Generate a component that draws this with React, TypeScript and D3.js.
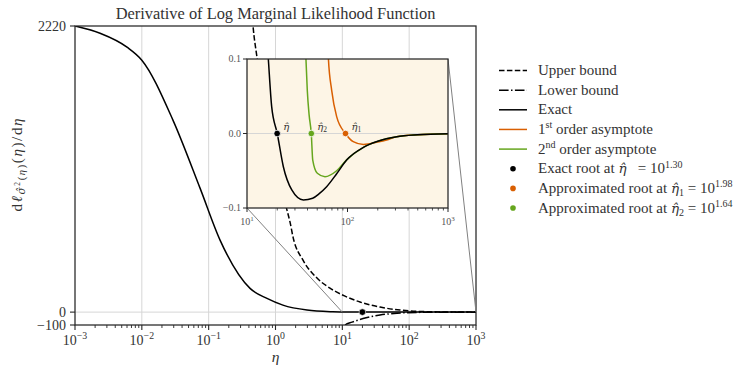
import React from 'react';
import * as d3 from 'd3';

// ---------- data ----------
const exactEta = [0.001, 0.00237, 0.006, 0.01, 0.0292, 0.0743, 0.148, 0.416, 0.746, 1.29, 2.96, 7.2, 12, 16.3, 17.6, 20, 23, 27.9, 36.4, 45, 52, 62, 78, 98, 144, 200, 309, 500, 1000];
const exactVal = [2220, 2164, 2056, 1955, 1490, 962, 559, 184, 106, 54, 16, 3, 0.4, 0.1, 0.036, 0, -0.0446, -0.0758, -0.0893, -0.087, -0.081, -0.0714, -0.054, -0.0356, -0.0186, -0.0105, -0.0044, -0.0018, -0.0004];

const upperEta = [0.4, 0.461, 0.528, 0.83, 1.486, 1.65, 1.83, 2.58, 4.18, 6.53, 10.96, 18.4, 36.6, 73, 145, 400, 1000];
const upperVal = [2700, 2220, 1978, 1300, 791, 698, 582, 403, 264, 186, 124, 78, 39, 16, 5, 1, 0.3];

const lowerEta = [8, 11, 14, 20.4, 36.6, 65.8, 145, 400, 1000];
const lowerVal = [-200, -100, -78, -50, -23, -8, -2, -0.4, -0.1];

const asym1Eta = [62, 64.6, 69.6, 78, 95.5, 114, 144, 200, 245, 309, 500, 1000];
const asym1Val = [0.16, 0.1, 0.058, 0.0226, 0, -0.011, -0.0148, -0.0115, -0.0087, -0.0042, -0.0017, -0.0004];

const asym2Eta = [36.5, 38.6, 39.8, 41.5, 43.6, 45.1, 50.1, 59.7, 78, 98, 144, 200, 309, 500, 1000];
const asym2Val = [0.16, 0.1, 0.058, 0.025, 0, -0.0356, -0.0534, -0.058, -0.05, -0.0354, -0.0185, -0.0105, -0.0044, -0.0018, -0.0004];

const rootExp = [1.30, 1.98, 1.64];
const rootColors = ['#000000', '#d95f02', '#66a61e'];
const rootLabels = ['', '1', '2'];

const mainXTicks = [-3, -2, -1, 0, 1, 2, 3];
const mainYTicks = [2220, 0, -100];
const insetXTicks = [1, 2, 3];
const insetYTicks = [0.1, 0, -0.1];
const insetYLabels = ['0.1', '0.0', '\u22120.1'];

const legendLines = [
  { label: 'Upper bound', dash: '5.5,2.4', color: '#000' },
  { label: 'Lower bound', dash: '9.6,2.4,1.5,2.4', color: '#000' },
  { label: 'Exact', dash: null, color: '#000' },
];

const FONT = '"Liberation Serif", "DejaVu Serif", serif';
const HATFONT = '"DejaVu Serif", serif';
const TXT = '#333';

const pair = (xs: number[], ys: number[]) => xs.map((x, i) => [x, ys[i]] as [number, number]);

export default function App() {
  const xMain = d3.scaleLog().domain([1e-3, 1e3]).range([75, 476]);
  const yMain = d3.scaleLinear().domain([-100, 2220]).range([325, 26]);
  const xIn = d3.scaleLog().domain([10, 1000]).range([247, 448]);
  const yIn = d3.scaleLinear().domain([-0.1, 0.1]).range([208, 59]);

  const lineMain = d3.line<[number, number]>().x(d => xMain(d[0])).y(d => yMain(d[1])).curve(d3.curveMonotoneX);
  const lineIn = d3.line<[number, number]>().x(d => xIn(d[0])).y(d => yIn(d[1])).curve(d3.curveMonotoneX);

  const exact = pair(exactEta, exactVal);
  const upper = pair(upperEta, upperVal);
  const lower = pair(lowerEta, lowerVal);
  const a1 = pair(asym1Eta, asym1Val);
  const a2 = pair(asym2Eta, asym2Val);

  const [mx0, mx1] = xMain.range();
  const [my0, my1] = [yMain(2220), yMain(-100)];
  const [ix0, ix1] = xIn.range();
  const [iy0, iy1] = [yIn(0.1), yIn(-0.1)];

  const minor = (lo: number, hi: number) => {
    const out: number[] = [];
    for (let e = lo; e < hi; e++) for (let k = 2; k <= 9; k++) out.push(k * Math.pow(10, e));
    return out;
  };

  const sup = (base: string, exp: string, fs: number, x: number, y: number, fill: string) => (
    <text x={x} y={y} textAnchor="middle" fontSize={fs} fill={fill}>
      <tspan>{base}</tspan>
      <tspan dy={-fs * 0.42} fontSize={fs * 0.7}>{exp}</tspan>
    </text>
  );

  const rowY = (i: number) => 70.5 + i * 19.65;
  const LFS = 15;
  const ETAHAT = '\u03B7\u0302';

  return (
    <svg width={747} height={376} style={{ position: 'absolute', left: 0, top: 0, background: '#fff' }} fontFamily={FONT}>
      <defs>
        <clipPath id="cmain"><rect x={mx0} y={my0} width={mx1 - mx0} height={my1 - my0} /></clipPath>
        <clipPath id="cin"><rect x={ix0} y={iy0} width={ix1 - ix0} height={iy1 - iy0} /></clipPath>
      </defs>

      {/* main grid */}
      {mainXTicks.slice(1, -1).map(e => (
        <line key={'g' + e} x1={xMain(Math.pow(10, e))} x2={xMain(Math.pow(10, e))} y1={my0} y2={my1} stroke="#d6d6d6" strokeWidth={1} />
      ))}
      <line x1={mx0} x2={mx1} y1={yMain(0)} y2={yMain(0)} stroke="#d6d6d6" strokeWidth={1} />

      {/* main curves */}
      <g clipPath="url(#cmain)">
        <path d={lineMain(upper) || ''} fill="none" stroke="#000" strokeWidth={1.5} strokeDasharray="5.5,2.4" />
        <path d={lineMain(lower) || ''} fill="none" stroke="#000" strokeWidth={1.5} strokeDasharray="9.6,2.4,1.5,2.4" />
        <path d={lineMain(exact) || ''} fill="none" stroke="#000" strokeWidth={1.5} />
      </g>
      <circle cx={xMain(Math.pow(10, rootExp[0]))} cy={yMain(0)} r={3.3} fill="#000" stroke="#fff" strokeWidth={0.6} />

      {/* main spines */}
      <rect x={mx0} y={my0} width={mx1 - mx0} height={my1 - my0} fill="none" stroke="#262626" strokeWidth={1.25} />

      {/* main x ticks */}
      {mainXTicks.map(e => (
        <g key={'xt' + e}>
          <line x1={xMain(Math.pow(10, e))} x2={xMain(Math.pow(10, e))} y1={my1} y2={my1 + 5} stroke="#262626" strokeWidth={1.1} />
          {sup('10', e < 0 ? '\u2212' + Math.abs(e) : String(e), 14, xMain(Math.pow(10, e)), 345, TXT)}
        </g>
      ))}
      {minor(-3, 3).map((v, i) => (
        <line key={'mx' + i} x1={xMain(v)} x2={xMain(v)} y1={my1} y2={my1 + 3} stroke="#262626" strokeWidth={0.9} />
      ))}
      {/* main y ticks */}
      {mainYTicks.map(v => (
        <g key={'yt' + v}>
          <line x1={mx0 - 5} x2={mx0} y1={yMain(v)} y2={yMain(v)} stroke="#262626" strokeWidth={1.1} />
          <text x={mx0 - 9} y={yMain(v) + 4.5} textAnchor="end" fontSize={14} fill={TXT}>{v < 0 ? '\u2212' + Math.abs(v) : v}</text>
        </g>
      ))}

      {/* title and axis labels */}
      <text x={275.5} y={18.5} textAnchor="middle" fontSize={16.4} fill={TXT}>Derivative of Log Marginal Likelihood Function</text>
      <text x={275.5} y={362} textAnchor="middle" fontSize={15.5} fontStyle="italic" fill={TXT}>η</text>
      <text transform="translate(22,165) rotate(-90)" textAnchor="middle" fontSize={15} fill={TXT} textLength={93} lengthAdjust="spacing">
        <tspan>d</tspan>
        <tspan fontStyle="italic">ℓ</tspan>
        <tspan fontSize={10.5} fontStyle="italic" fontFamily={HATFONT} dy={3}>{'\u03C3\u0302'}</tspan>
        <tspan fontSize={7.5} dy={-5}>2</tspan>
        <tspan fontSize={10.5} dy={5}>(</tspan>
        <tspan fontSize={10.5} fontStyle="italic">η</tspan>
        <tspan fontSize={10.5}>)</tspan>
        <tspan dy={-3}>(</tspan>
        <tspan fontStyle="italic">η</tspan>
        <tspan>)/d</tspan>
        <tspan fontStyle="italic">η</tspan>
      </text>

      {/* connector lines (mark_inset) */}
      <line x1={ix0} y1={iy1} x2={xMain(10)} y2={yMain(-0.1)} stroke="#808080" strokeWidth={1} />
      <line x1={ix1} y1={iy0} x2={xMain(1000)} y2={yMain(0.1)} stroke="#808080" strokeWidth={1} />

      {/* inset */}
      <rect x={ix0} y={iy0} width={ix1 - ix0} height={iy1 - iy0} fill="#fdf5e6" />
      <line x1={ix0} x2={ix1} y1={yIn(0)} y2={yIn(0)} stroke="#d6d6d6" strokeWidth={1} />
      <g clipPath="url(#cin)">
        <path d={lineIn(a1) || ''} fill="none" stroke={rootColors[1]} strokeWidth={1.5} />
        <path d={lineIn(a2) || ''} fill="none" stroke={rootColors[2]} strokeWidth={1.5} />
        <path d={lineIn(exact) || ''} fill="none" stroke="#000" strokeWidth={1.5} />
      </g>
      {rootExp.map((e, i) => (
        <g key={'r' + i}>
          <circle cx={xIn(Math.pow(10, e))} cy={yIn(0)} r={3.3} fill={rootColors[i]} stroke="#fff" strokeWidth={0.8} />
          <text x={xIn(Math.pow(10, e)) + 6} y={yIn(0) - 4} fontSize={10} fill={TXT}>
            <tspan fontStyle="italic" fontFamily={HATFONT}>{ETAHAT}</tspan>
            {rootLabels[i] && <tspan fontSize={7.5} dy={2.5}>{rootLabels[i]}</tspan>}
          </text>
        </g>
      ))}
      <rect x={ix0} y={iy0} width={ix1 - ix0} height={iy1 - iy0} fill="none" stroke="#262626" strokeWidth={1.25} />
      {insetXTicks.map(e => (
        <g key={'ixt' + e}>
          <line x1={xIn(Math.pow(10, e))} x2={xIn(Math.pow(10, e))} y1={iy1} y2={iy1 + 4} stroke="#262626" strokeWidth={1} />
          {sup('10', String(e), 10, xIn(Math.pow(10, e)), 225, '#555')}
        </g>
      ))}
      {minor(1, 3).map((v, i) => (
        <line key={'imx' + i} x1={xIn(v)} x2={xIn(v)} y1={iy1} y2={iy1 + 2.5} stroke="#262626" strokeWidth={0.8} />
      ))}
      {insetYTicks.map((v, i) => (
        <g key={'iyt' + i}>
          <line x1={ix0 - 4} x2={ix0} y1={yIn(v)} y2={yIn(v)} stroke="#262626" strokeWidth={1} />
          <text x={ix0 - 6} y={yIn(v) + 3.3} textAnchor="end" fontSize={10} fill="#555">{insetYLabels[i]}</text>
        </g>
      ))}

      {/* legend */}
      {legendLines.map((l, i) => (
        <g key={'l' + i}>
          <line x1={499} x2={527} y1={rowY(i)} y2={rowY(i)} stroke={l.color} strokeWidth={1.5} strokeDasharray={l.dash || undefined} />
          <text x={538} y={rowY(i) + 4.5} fontSize={LFS} fill={TXT}>{l.label}</text>
        </g>
      ))}
      {[1, 2].map((k, j) => (
        <g key={'la' + k}>
          <line x1={499} x2={527} y1={rowY(3 + j)} y2={rowY(3 + j)} stroke={rootColors[k]} strokeWidth={1.5} />
          <text x={538} y={rowY(3 + j) + 4.5} fontSize={LFS} fill={TXT}>
            <tspan>{k === 1 ? '1' : '2'}</tspan>
            <tspan fontSize={10} dy={-5.5}>{k === 1 ? 'st' : 'nd'}</tspan>
            <tspan dy={5.5}> order asymptote</tspan>
          </text>
        </g>
      ))}
      {rootExp.map((e, i) => (
        <g key={'lr' + i}>
          <circle cx={513} cy={rowY(5 + i)} r={2.8} fill={rootColors[i]} />
          <text x={538} y={rowY(5 + i) + 4.5} fontSize={LFS} fill={TXT}>
            <tspan>{i === 0 ? 'Exact root at ' : 'Approximated root at '}</tspan>
            <tspan fontStyle="italic" fontFamily={HATFONT} fontSize={13.5}>{ETAHAT}</tspan>
            {i > 0 && <tspan fontSize={10} dy={3}>{rootLabels[i]}</tspan>}
            <tspan dy={i > 0 ? -3 : 0}>{i === 0 ? '\u2002 = 10' : ' = 10'}</tspan>
            <tspan fontSize={10} dy={-5.5}>{e.toFixed(2)}</tspan>
          </text>
        </g>
      ))}
    </svg>
  );
}
